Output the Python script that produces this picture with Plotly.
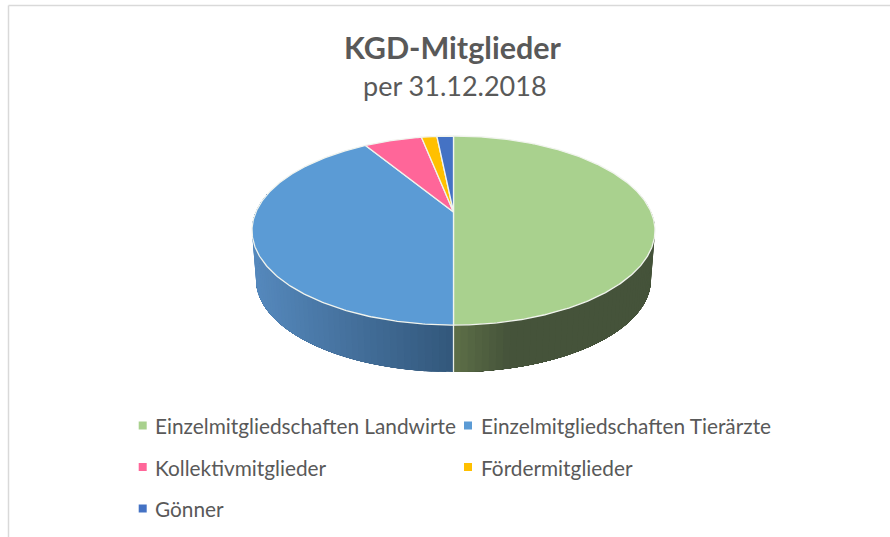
import numpy as np
import plotly.graph_objects as go

categories = ["Einzelmitgliedschaften Landwirte", "Einzelmitgliedschaften Tierärzte",
              "Kollektivmitglieder", "Fördermitglieder", "Gönner"]
values = [50.0, 41.3, 5.6, 1.5, 1.6]
colors = ["#A9D18E", "#5B9BD5", "#FF6699", "#FFC000", "#4472C4"]
wall_ends = {0: ("#5F7148", "#45533A"), 1: ("#33587C", "#5588BC")}

CX, APEX, A, B, K = 453.5, 212.0, 197.6, 90.9, 0.196
DEPTH_Y, DEPTH_S = 49.3, 0.98


def rim(theta, bottom=False):
    """Perspective projection of a unit-circle angle (clockwise from the top)."""
    u, v = np.sin(theta), -np.cos(theta)
    w = 1 - K * v
    s, dy = (DEPTH_S, DEPTH_Y) if bottom else (1.0, 0.0)
    return CX + s * A * u / w, APEX + dy + s * B * v / w


def mix(c1, c2, t):
    a = [int(c1[i:i + 2], 16) for i in (1, 3, 5)]
    b = [int(c2[i:i + 2], 16) for i in (1, 3, 5)]
    return "rgb(%d,%d,%d)" % tuple(round(p + (q - p) * t) for p, q in zip(a, b))


fig = go.Figure()
edges = np.cumsum([0] + values) / sum(values) * 2 * np.pi

# side wall: overlapping layers painted from one end, so the gradient shows no seams
for i, (lo, hi) in enumerate(zip(edges[:-1], edges[1:])):
    if i not in wall_ends:
        continue
    vis_lo, vis_hi = max(lo, 0.5 * np.pi - 0.2), min(hi, 1.5 * np.pi + 0.2)
    for a in np.linspace(vis_lo, vis_hi, 60, endpoint=False):
        arc = np.linspace(a, vis_hi, 40)
        xt, yt = rim(arc)
        xb, yb = rim(arc[::-1], True)
        xm = rim(a)[0]
        t = min(1.0, ((xm - CX) / A) / 0.3) if i == 0 else (CX - xm) / A
        col = mix(*wall_ends[i], max(0.0, min(1.0, t)))
        fig.add_trace(go.Scatter(x=np.r_[xt, xb, xt[0]], y=np.r_[yt, yb, yt[0]], mode="lines",
                                 fill="toself", fillcolor=col, line=dict(color=col, width=0),
                                 hoverinfo="skip", showlegend=False))

# seam on the front of the wall
sx, sy = rim(np.pi), rim(np.pi, True)
fig.add_trace(go.Scatter(x=[sx[0], sy[0]], y=[sx[1], sy[1]], mode="lines",
                         line=dict(color="#EAEFE6", width=1.3), hoverinfo="skip", showlegend=False))

# top face
for cat, val, col, lo, hi in zip(categories, values, colors, edges[:-1], edges[1:]):
    t = np.linspace(lo, hi, max(6, int(val * 6)))
    x, y = rim(t)
    fig.add_trace(go.Scatter(x=np.r_[CX, x, CX], y=np.r_[APEX, y, APEX], mode="lines", fill="toself",
                             fillcolor=col, line=dict(color="#F1F4EE", width=1.3),
                             name=cat, text=f"{cat}: {val}%", hoverinfo="text", showlegend=False))

# legend
leg_x = [142.7, 468]
leg_y = [425.5, 467, 508.5]
for k, (cat, col) in enumerate(zip(categories, colors)):
    x, y = leg_x[k % 2], leg_y[k // 2]
    fig.add_trace(go.Scatter(x=[x], y=[y], mode="markers", marker=dict(symbol="square", size=8, color=col),
                             hoverinfo="skip", showlegend=False))
    fig.add_annotation(x=x + 10.5, y=y, text=cat, showarrow=False, xanchor="left", yanchor="middle",
                       font=dict(family="Lato", size=20.8, color="#595959"))

fig.add_annotation(x=453, y=47, text="<b>KGD-Mitglieder</b>", showarrow=False,
                   font=dict(family="Lato", size=30.5, color="#595959"))
fig.add_annotation(x=454.5, y=85, text="per 31.12.2018", showarrow=False,
                   font=dict(family="Lato", size=27, color="#595959"))

# frame of the original chart area
fig.add_shape(type="line", x0=8.5, x1=8.5, y0=5.5, y1=537, line=dict(color="#D9D9D9", width=1.5))
fig.add_shape(type="line", x0=8.5, x1=890, y0=5.5, y1=5.5, line=dict(color="#D9D9D9", width=1.5))

fig.update_layout(width=890, height=537, margin=dict(l=0, r=0, t=0, b=0), paper_bgcolor="white",
                  plot_bgcolor="white", showlegend=False,
                  xaxis=dict(range=[0, 890], visible=False, fixedrange=True),
                  yaxis=dict(range=[537, 0], visible=False, fixedrange=True))
fig.write_html("out.html", config={"displayModeBar": False},
               post_script="document.body.style.margin='0';document.documentElement.style.overflow='hidden';")
